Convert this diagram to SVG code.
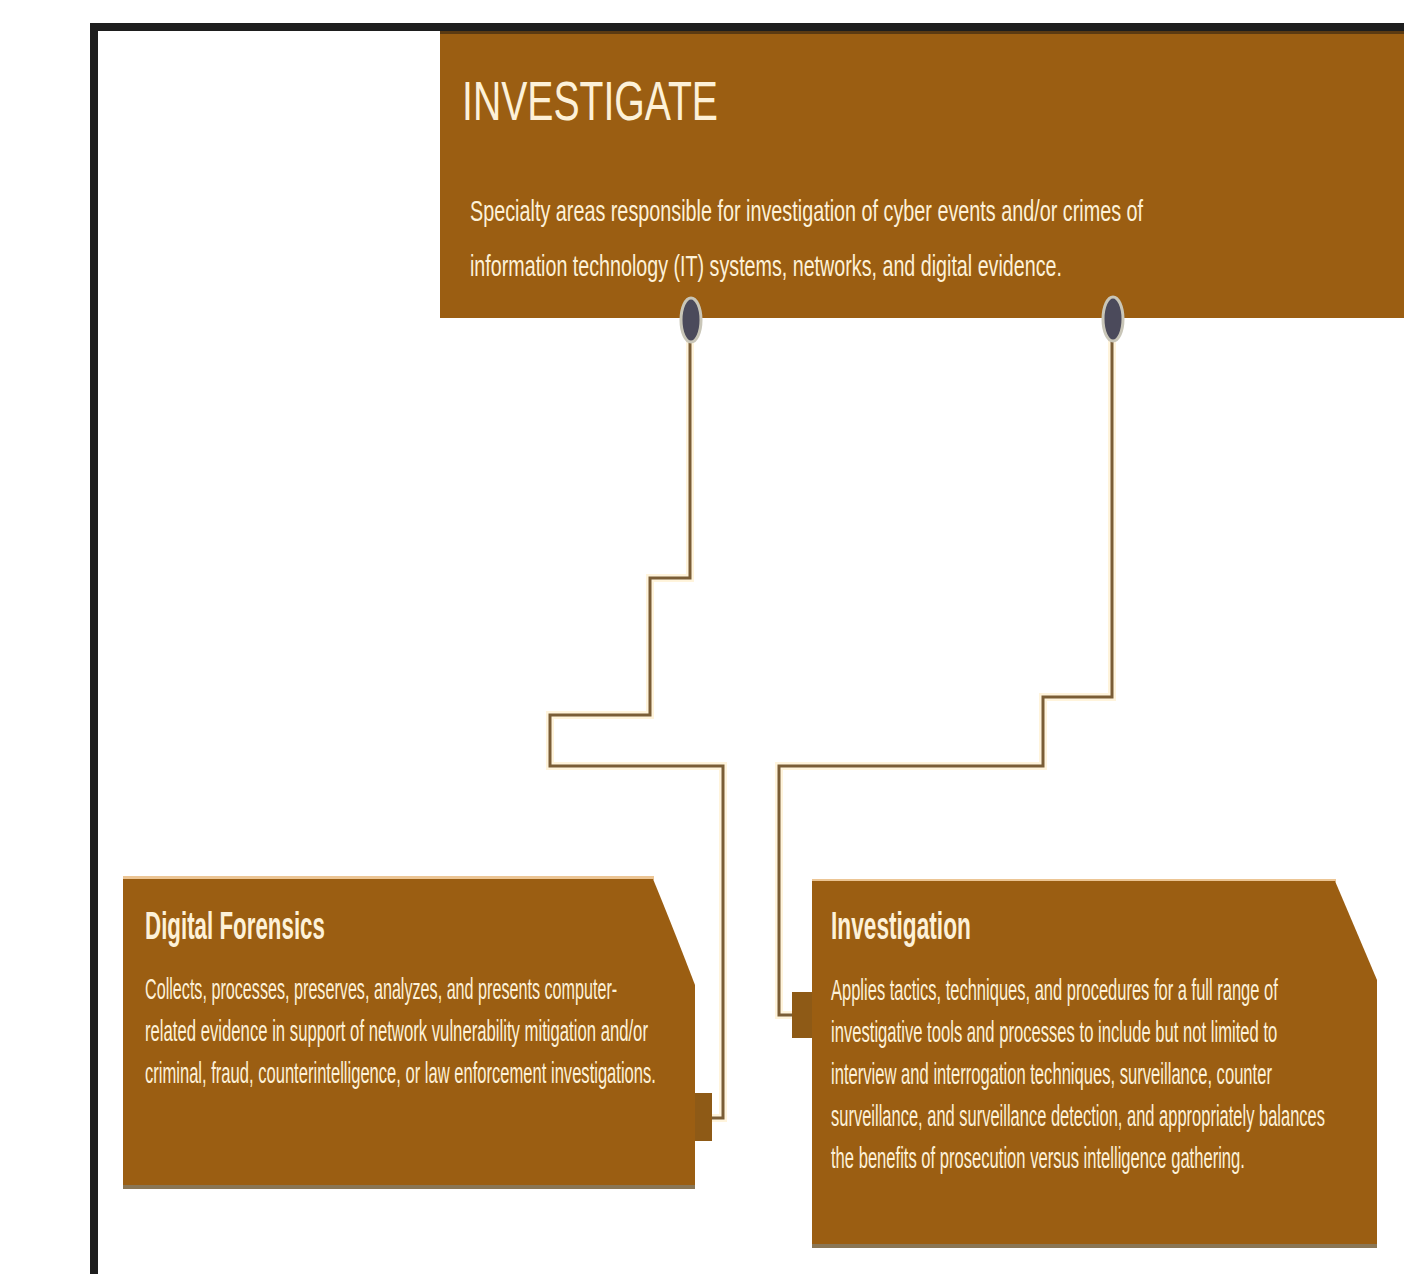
<svg xmlns="http://www.w3.org/2000/svg" width="1404" height="1274" viewBox="0 0 1404 1274">
  <defs>
    <style>
      .box { fill: #9b5e12; }
      .edge-top { fill: #ecc594; }
      .edge-bot { fill: #8a7655; }
      .title { font-family: "Liberation Sans", Arial, sans-serif; fill: #fdf1d8; }
      .body { font-family: "Liberation Sans", Arial, sans-serif; fill: #fdf1d8; font-size: 30px; }
      .halo { fill: none; stroke: #fff4dc; stroke-width: 8; stroke-linejoin: miter; }
      .wire { fill: none; stroke: #7a5d36; stroke-width: 3; stroke-linejoin: miter; }
      .pin { fill: #4b4a5b; stroke: #c9c6b8; stroke-width: 3; }
    </style>
  </defs>

  <rect width="1404" height="1274" fill="#ffffff"/>

  <!-- outer frame -->
  <rect x="94" y="27" width="1400" height="1300" fill="none" stroke="#1e1e1e" stroke-width="8"/>

  <!-- connectors -->
  <g id="connectors">
    <path class="halo" d="M690 340 V578 H650 V715 H550 V766 H723 V1118 H712"/>
    <path class="halo" d="M1112 340 V697 H1043 V766 H779 V1015 H792"/>
    <path class="wire" d="M690 340 V578 H650 V715 H550 V766 H723 V1118 H712"/>
    <path class="wire" d="M1112 340 V697 H1043 V766 H779 V1015 H792"/>
  </g>

  <!-- header node; narrow lettering is made by a horizontal scale -->
  <g id="investigate">
    <rect class="box" x="440" y="31" width="970" height="287"/>
    <rect x="440" y="31" width="970" height="3" fill="#5b3a12"/>
    <text class="title" transform="translate(462 120) scale(0.69 1)" font-size="56" textLength="371" lengthAdjust="spacingAndGlyphs">INVESTIGATE</text>
    <text class="body" font-size="33" transform="translate(470 221) scale(0.56 1)" textLength="1202" lengthAdjust="spacingAndGlyphs">Specialty areas responsible for investigation of cyber events and/or crimes of</text>
    <text class="body" font-size="33" transform="translate(470 276) scale(0.56 1)" textLength="1057" lengthAdjust="spacingAndGlyphs">information technology (IT) systems, networks, and digital evidence.</text>
    <ellipse class="pin" cx="691" cy="320" rx="10" ry="22"/>
    <ellipse class="pin" cx="1113" cy="319" rx="10" ry="22"/>
  </g>

  <!-- Digital Forensics node -->
  <g id="digital-forensics">
    <rect class="edge-top" x="123" y="876" width="531" height="4"/>
    <path class="box" d="M123 879 H653 Q672 925 695 985 V1188 H123 Z"/>
    <rect class="edge-bot" x="123" y="1185" width="572" height="4"/>
    <rect x="695" y="1093" width="17" height="48" fill="#8e5a16"/>
    <text class="title" transform="translate(145 939) scale(0.52 1)" font-size="38" font-weight="bold" textLength="346" lengthAdjust="spacingAndGlyphs">Digital Forensics</text>
    <text class="body" transform="translate(145 999) scale(0.53 1)" textLength="891" lengthAdjust="spacingAndGlyphs">Collects, processes, preserves, analyzes, and presents computer-</text>
    <text class="body" transform="translate(145 1041) scale(0.53 1)" textLength="949" lengthAdjust="spacingAndGlyphs">related evidence in support of network vulnerability mitigation and/or</text>
    <text class="body" transform="translate(145 1083) scale(0.53 1)" textLength="964" lengthAdjust="spacingAndGlyphs">criminal, fraud, counterintelligence, or law enforcement investigations.</text>
  </g>

  <!-- Investigation node -->
  <g id="investigation">
    <rect class="edge-top" x="812" y="879" width="524" height="3"/>
    <path class="box" d="M812 881 H1335 Q1355 928 1377 980 V1247 H812 Z"/>
    <rect class="edge-bot" x="812" y="1244" width="565" height="4"/>
    <rect x="792" y="992" width="20" height="46" fill="#8e5a16"/>
    <text class="title" transform="translate(831 939) scale(0.52 1)" font-size="38" font-weight="bold" textLength="269" lengthAdjust="spacingAndGlyphs">Investigation</text>
    <text class="body" transform="translate(831 1000) scale(0.53 1)" textLength="843" lengthAdjust="spacingAndGlyphs">Applies tactics, techniques, and procedures for a full range of</text>
    <text class="body" transform="translate(831 1042) scale(0.53 1)" textLength="842" lengthAdjust="spacingAndGlyphs">investigative tools and processes to include but not limited to</text>
    <text class="body" transform="translate(831 1084) scale(0.53 1)" textLength="832" lengthAdjust="spacingAndGlyphs">interview and interrogation techniques, surveillance, counter</text>
    <text class="body" transform="translate(831 1126) scale(0.53 1)" textLength="932" lengthAdjust="spacingAndGlyphs">surveillance, and surveillance detection, and appropriately balances</text>
    <text class="body" transform="translate(831 1168) scale(0.53 1)" textLength="781" lengthAdjust="spacingAndGlyphs">the benefits of prosecution versus intelligence gathering.</text>
  </g>
</svg>
